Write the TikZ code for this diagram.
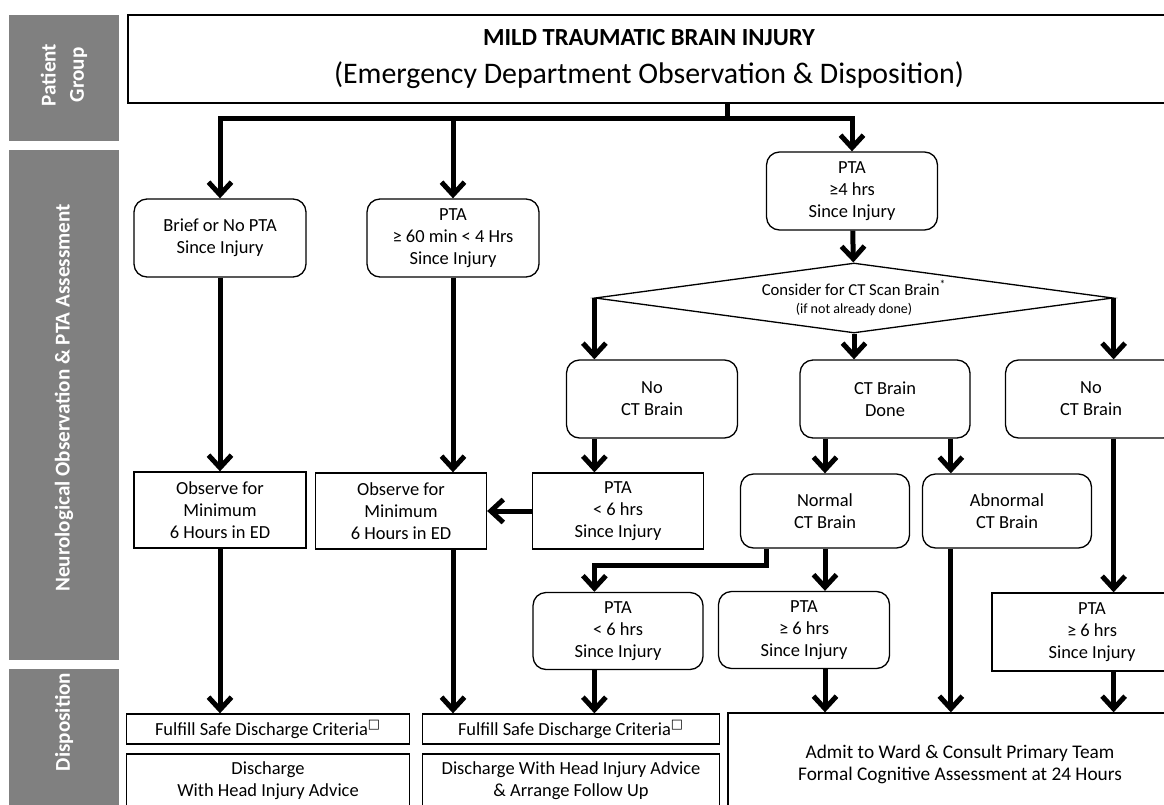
\documentclass[tikz,border=0pt]{standalone}
\usepackage{fontspec}
\setmainfont{Carlito}
\newfontfamily\symfont{DejaVu Sans}
\usetikzlibrary{shapes.geometric,arrows.meta}

\begin{document}
\begin{tikzpicture}[x=0.02cm,y=-0.02cm,
  lane/.style={fill=black!50},
  lanetext/.style={rotate=90,text=white,align=center,font=\bfseries\fontsize{12}{16}\selectfont},
  box/.style={draw,line width=0.75pt,align=center,inner sep=1pt,font=\fontsize{10.5}{12.5}\selectfont},
  rbox/.style={box,rounded corners=0.26cm},
  flow/.style={line width=0.1cm,-{Straight Barb[length=0.25cm,width=0.46cm]}}]
  \useasboundingbox (0,0) rectangle (1164,805);
  \fill[lane] (9,15) rectangle (119,141);
  \fill[lane] (9,150) rectangle (119,660);
  \fill[lane] (9,669) rectangle (119,815);
  \node[lanetext] (group) at (64,75) {Patient\\Group};
  \node[lanetext] (neuro) at (64,398) {Neurological Observation \& PTA Assessment};
  \node[lanetext] (disposition) at (64,722) {Disposition};

  \node[box,minimum width=20.84cm,minimum height=1.76cm,font=\fontsize{17}{21.6}\selectfont] (title) at (649,59)
    {{\bfseries\fontsize{14}{21.6}\selectfont MILD TRAUMATIC BRAIN INJURY}\\(Emergency Department Observation \& Disposition)};

  \node[rbox,minimum width=3.44cm,minimum height=1.56cm] (briefpta) at (220,238) {Brief or No PTA\\Since Injury};
  \node[rbox,minimum width=3.44cm,minimum height=1.56cm] (pta60) at (453,238) {PTA\\≥ 60 min < 4 Hrs\\Since Injury};
  \node[rbox,minimum width=3.42cm,minimum height=1.56cm] (pta4) at (852,191) {PTA\\≥4 hrs\\Since Injury};
  \node[draw,diamond,line width=0.75pt,aspect=7.4,minimum width=10.36cm,minimum height=1.4cm,inner sep=0pt,align=center,font=\fontsize{9.5}{10.5}\selectfont] (ctscan) at (854,298)
    {Consider for CT Scan Brain\textsuperscript{*}\\{\fontsize{8}{10}\selectfont (if not already done)}};
  \node[rbox,minimum width=3.42cm,minimum height=1.56cm] (noct1) at (652,399) {No\\CT Brain};
  \node[rbox,minimum width=3.4cm,minimum height=1.56cm] (ctdone) at (885,399) {CT Brain\\Done};
  \node[rbox,minimum width=3.42cm,minimum height=1.56cm] (noct2) at (1091,399) {No\\CT Brain};
  \node[box,minimum width=3.44cm,minimum height=1.52cm] (observe1) at (220,510) {Observe for\\Minimum\\6 Hours in ED};
  \node[box,minimum width=3.42cm,minimum height=1.52cm] (observe2) at (401,511) {Observe for\\Minimum\\6 Hours in ED};
  \node[box,minimum width=3.42cm,minimum height=1.52cm] (ptaless1) at (618,511) {PTA\\< 6 hrs\\Since Injury};
  \node[rbox,minimum width=3.38cm,minimum height=1.48cm] (ctnormal) at (825,511) {Normal\\CT Brain};
  \node[rbox,minimum width=3.38cm,minimum height=1.48cm] (ctabnormal) at (1007,511) {Abnormal\\CT Brain};
  \node[rbox,minimum width=3.4cm,minimum height=1.54cm] (ptaless2) at (618,631) {PTA\\< 6 hrs\\Since Injury};
  \node[rbox,minimum width=3.42cm,minimum height=1.54cm] (ptamore1) at (804,630) {PTA\\≥ 6 hrs\\Since Injury};
  \node[box,minimum width=4cm,minimum height=1.56cm] (ptamore2) at (1092,632) {PTA\\≥ 6 hrs\\Since Injury};
  \node[box,minimum width=5.66cm,minimum height=0.6cm] (safe1) at (268,729) {Fulfill Safe Discharge Criteria\textsuperscript{\symfont □}};
  \node[box,minimum width=5.66cm,minimum height=1.08cm] (home1) at (268,781) {Discharge\\With Head Injury Advice};
  \node[box,minimum width=5.94cm,minimum height=0.6cm] (safe2) at (571,729) {Fulfill Safe Discharge Criteria\textsuperscript{\symfont □}};
  \node[box,minimum width=5.94cm,minimum height=1.08cm] (home2) at (571,781) {Discharge With Head Injury Advice\\\& Arrange Follow Up};
  \node[box,minimum width=9.28cm,minimum height=2.04cm,font=\fontsize{11}{12.5}\selectfont] (admit) at (960,764)
    {Admit to Ward \& Consult Primary Team\\Formal Cognitive Assessment at 24 Hours};

  \coordinate (split) at (727,118);
  \coordinate (abncol) at ([xshift=0.58cm]ctabnormal.north west);
  \draw[line width=0.1cm] (title.south -| split) -- (split);
  \draw[flow] (split) -| (briefpta);
  \draw[flow] (split) -| (pta60);
  \draw[flow] (split) -| (pta4);
  \draw[flow] (briefpta) -- (observe1);
  \draw[flow] (observe1.south) -- (observe1.south |- safe1.north);
  \draw[flow] (pta60.south) -- (pta60.south |- observe2.north);
  \draw[flow] (observe2.south -| pta60.south) -- (pta60.south |- safe2.north);
  \draw[flow] (pta4) -- (ctscan);
  \draw[flow] (ctscan.west) -- (ctscan.west |- noct1.north);
  \draw[flow] (ctscan.south) -- (ctscan.south |- ctdone.north);
  \draw[flow] (ctscan.east) -- (ctscan.east |- noct2.north);
  \draw[flow] (noct1.south -| ctscan.west) -- (ctscan.west |- ptaless1.north);
  \draw[flow] (ptaless1) -- (observe2);
  \draw[flow] (ctdone.south -| ctnormal) -- (ctnormal);
  \draw[flow] (ctdone.south -| abncol) -- (abncol);
  \draw[flow] (noct2.south -| ctscan.east) -- (ctscan.east |- ptamore2.north);
  \draw[flow] (ctnormal.south) -- (ctnormal.south |- ptamore1.north);
  \draw[flow] ([xshift=0.54cm]ctnormal.south west) -- ++(0,17) -| (ptaless2.north -| ctscan.west);
  \draw[flow] (ptaless2.south -| ctscan.west) -- (ctscan.west |- safe2.north);
  \draw[flow] (ptamore1.south -| ctnormal) -- (ctnormal |- admit.north);
  \draw[flow] (ctabnormal.south -| abncol) -- (abncol |- admit.north);
  \draw[flow] (ptamore2.south -| ctscan.east) -- (ctscan.east |- admit.north);
\end{tikzpicture}
\end{document}
